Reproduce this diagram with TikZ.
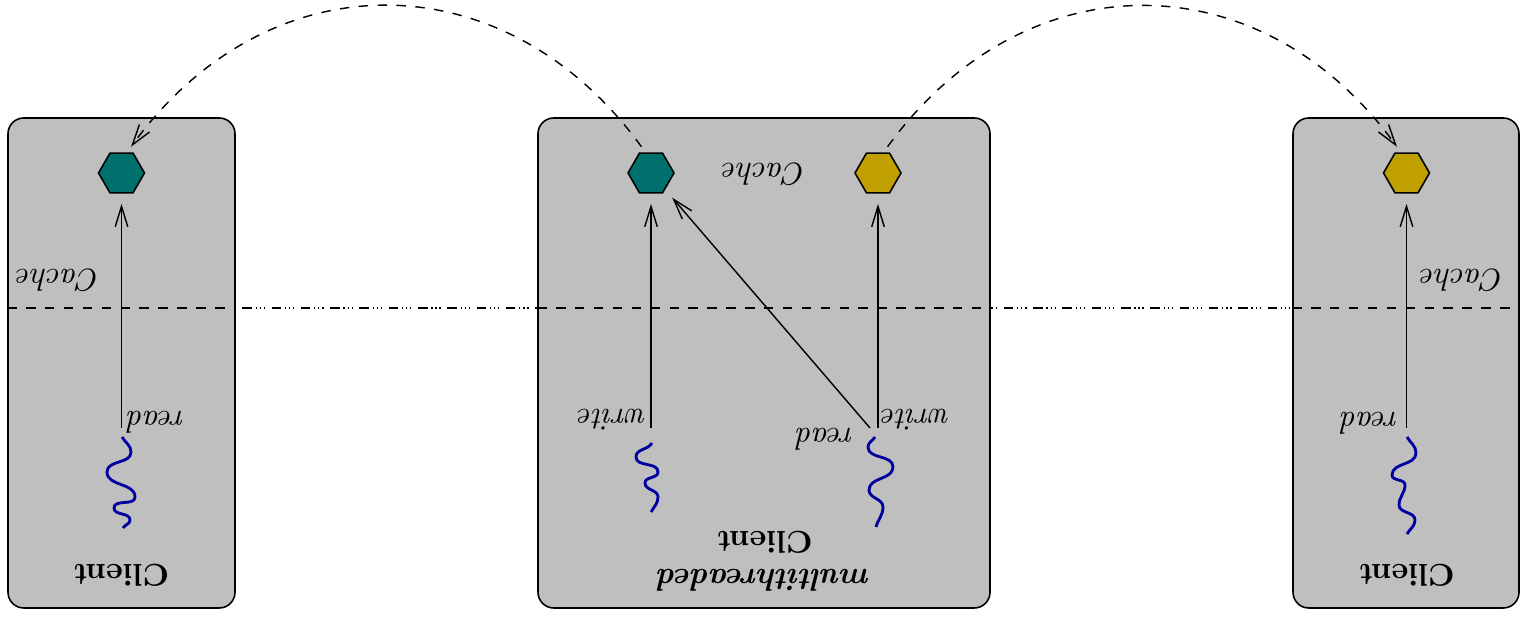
\documentclass[tikz,border=0pt]{standalone}
\usetikzlibrary{shapes.geometric,arrows.meta}
\definecolor{tealc}{RGB}{0,112,108}
\definecolor{goldc}{RGB}{192,160,0}
\definecolor{boxgray}{RGB}{191,191,191}
\definecolor{threadc}{RGB}{0,0,160}
\newcommand\upx{0.3175pt}
\tikzset{
  cbox/.style={draw, fill=boxgray, rounded corners=5pt, line width=0.5pt, inner sep=0pt},
  hexn/.style={regular polygon, regular polygon sides=6, minimum size=46*\upx, inner sep=0pt, outer sep=2pt, draw, line width=0.5pt},
  lbl/.style={rotate=180, inner sep=0pt, font=\itshape},
  ttl/.style={rotate=180, inner sep=0pt, font=\bfseries, align=center},
  arr/.style={-{Straight Barb[length=6.5pt,width=4pt]}, shorten >=1.5pt, line width=0.45pt},
  darr/.style={dashed, -{Straight Barb[length=6.5pt,width=4pt]}, line width=0.45pt},
  thr/.style={draw=threadc, line width=0.9pt},
  sepline/.style={line width=0.45pt, dash pattern=on 3pt off 1.2pt on 0.4pt off 0.9pt on 0.4pt off 0.9pt on 0.4pt off 2.1pt},
  sepdash/.style={line width=0.45pt, dashed}
}
\begin{document}
\begin{tikzpicture}[x=0.3175pt,y=0.3175pt]
\useasboundingbox (0,0) rectangle (1521,621);
% separator behind boxes
\coordinate (hlw) at (8,313);
\coordinate (hle) at (1521,313);
\draw[sepline] (hlw) -- (hle);
% boxes
\node[cbox, minimum width=227*\upx, minimum height=490*\upx] (lbox) at (121.5,258) {};
\node[cbox, minimum width=452*\upx, minimum height=490*\upx] (mbox) at (764,258) {};
\node[cbox, minimum width=226*\upx, minimum height=490*\upx] (rbox) at (1406,258) {};
% dashed separator inside boxes
\draw[sepdash] (lbox.west |- hlw) -- (lbox.east |- hlw);
\draw[sepdash] (mbox.west |- hlw) -- (mbox.east |- hlw);
\draw[sepdash] (rbox.west |- hlw) -- (rbox.east |- hlw);
% caches
\node[hexn, fill=tealc] (lh) at (121.5,448) {};
\node[hexn, fill=tealc] (mh1) at (651,448) {};
\node[hexn, fill=goldc] (mh2) at (878,448) {};
\node[hexn, fill=goldc] (rh) at (1406.5,448) {};
% thread tops
\coordinate (lt) at (121.5,193);
\coordinate (mt1) at (651,193);
\coordinate (mt2) at (878,193);
\coordinate (mt2d) at (870,193);
\coordinate (rt) at (1406.5,193);
% access arrows
\draw[arr] (lt) -- (lh);
\draw[arr] (mt1) -- (mh1);
\draw[arr] (mt2) -- (mh2);
\draw[arr] (mt2d) -- (mh1);
\draw[arr] (rt) -- (rh);
% replication arcs
\draw[darr] (mh1.110) to[out=126,in=54,looseness=1.17] (lh.70);
\draw[darr] (mh2.70) to[out=54,in=126,looseness=1.17] (rh.110);
% threads
\draw[thr] (122,184) to[out=-60,in=90] (131,169) to[out=-90,in=90] (107,149)
  to[out=-90,in=90] (135,124) to[out=-90,in=90] (114,113) to[out=-90,in=90] (130,101)
  to[out=-90,in=60] (123,93);
\draw[thr] (652,178) to[out=-120,in=90] (636,164) to[out=-90,in=90] (658,149)
  to[out=-90,in=90] (645,138) to[out=-90,in=90] (658,124) to[out=-90,in=60] (651,109);
\draw[thr] (875,184) to[out=-120,in=90] (868,174) to[out=-90,in=90] (893,154)
  to[out=-90,in=90] (869,131) to[out=-90,in=90] (883,114) to[out=-90,in=75] (876,94);
\draw[thr] (1407,184) to[out=-60,in=90] (1416,168) to[out=-90,in=90] (1392,146)
  to[out=-90,in=90] (1405,136) to[out=-90,in=90] (1399,116) to[out=-90,in=90] (1415,101)
  to[out=-90,in=60] (1407,87);
% labels
\node[lbl] (lread) at (156.5,199) {read};
\node[lbl] (mwrite1) at (612.5,201) {write};
\node[lbl] (mwrite2) at (916,201) {write};
\node[lbl] (mread) at (825.5,182) {read};
\node[lbl] (rread) at (1370,198) {read};
\node[lbl] (lcache) at (58.5,341) {Cache};
\node[lbl] (mcache) at (764.5,447) {Cache};
\node[lbl] (rcache) at (1462.5,341) {Cache};
\node[ttl] (lclient) at (121,46) {Client};
\node[ttl] (mclient) at (764.5,60) {{\itshape multithreaded}\\Client};
\node[ttl] (rclient) at (1406.5,46) {Client};
\end{tikzpicture}
\end{document}
